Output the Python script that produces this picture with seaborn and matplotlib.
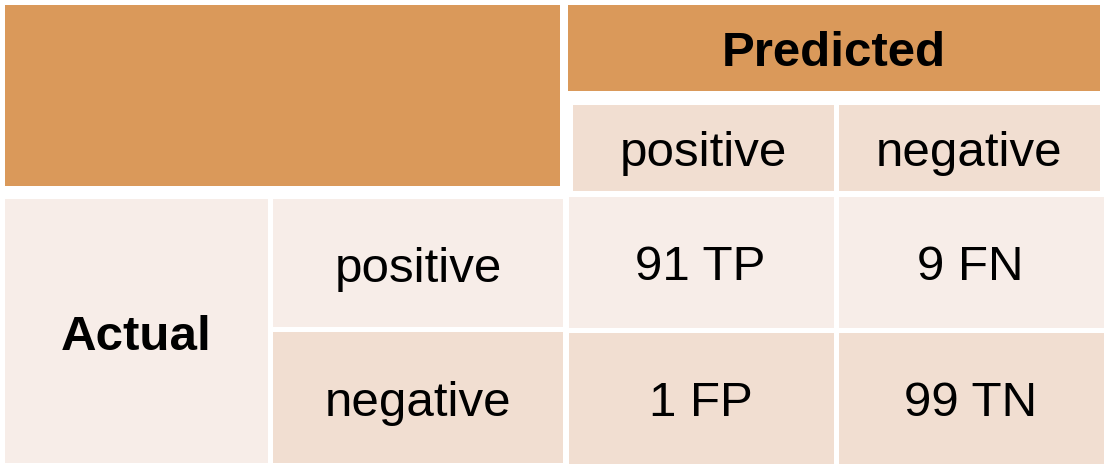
import numpy as np
import pandas as pd
import matplotlib
matplotlib.use("Agg")
import matplotlib.pyplot as plt
from matplotlib.patches import Rectangle
from matplotlib.colors import ListedColormap
import seaborn as sns

# Confusion matrix values
classes = ["positive", "negative"]
counts = [[91, 9], [1, 99]]
codes = [["TP", "FN"], ["FP", "TN"]]
header_pred = "Predicted"
header_act = "Actual"

orange = "#DA995A"
light = "#F7EDE8"
mid = "#F1DED1"

sns.set_theme(style="white")
plt.rcParams['font.family'] = ['Liberation Sans', 'DejaVu Sans']

W, H = 1108, 471
fig = plt.figure(figsize=(W / 100, H / 100), dpi=100)
ax = fig.add_axes([0, 0, 1, 1])
ax.set_xlim(0, W)
ax.set_ylim(H, 0)
ax.axis("off")

fs = 35.5
dy = 6  # text sits a little below the geometric centre

def box(x0, y0, x1, y1, color, text=None, bold=False):
    ax.add_patch(Rectangle((x0, y0), x1 - x0, y1 - y0, facecolor=color, edgecolor="none"))
    if text:
        ax.text((x0 + x1) / 2, (y0 + y1) / 2 + dy, text, ha="center", va="center",
                fontsize=fs, fontweight="bold" if bold else "normal", color="black")

# header blocks
box(5, 5, 560, 186, orange)
box(568, 5, 1100, 91, orange, header_pred, bold=True)
box(573, 105, 834, 191, mid, classes[0])
box(839, 105, 1100, 191, mid, classes[1])

# row headers
box(5, 199, 268, 463, light, header_act, bold=True)
box(273, 199, 563, 327, light, classes[0])
box(273, 332, 563, 463, mid, classes[1])

# body cells via seaborn heatmap, coloured by row
px = 1 / W
py = 1 / H
x0, x1 = 565.5, 1105.5
y0, y1 = 193.5, 465.5
hax = fig.add_axes([x0 * px, 1 - y1 * py, (x1 - x0) * px, (y1 - y0) * py])
row_id = pd.DataFrame([[0, 0], [1, 1]], index=classes, columns=classes)
labels = np.array([[f"{counts[i][j]} {codes[i][j]}" for j in range(2)] for i in range(2)])
sns.heatmap(row_id, ax=hax, cmap=ListedColormap([light, mid]), cbar=False,
            annot=labels, fmt="", annot_kws={"fontsize": fs, "color": "black"},
            linewidths=3.6, linecolor="white", xticklabels=False, yticklabels=False)
hax.axis("off")
for t in hax.texts:
    x, y = t.get_position()
    t.set_position((x, y + dy / (y1 - y0) * 2))

fig.savefig("out.png", dpi=100, facecolor="white")
